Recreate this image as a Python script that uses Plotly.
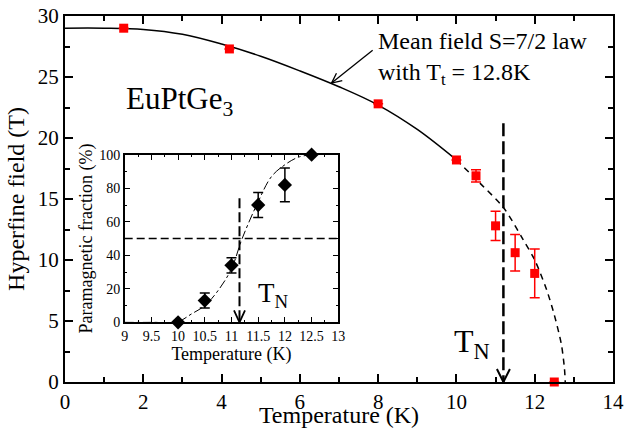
import plotly.graph_objects as go

# ---------------- data ----------------
# main panel: hyperfine field vs temperature
T_main = [1.5, 4.2, 8.0, 10.0, 10.5, 11.0, 11.5, 12.0, 12.5]
B_main = [29.0, 27.3, 22.8, 18.2, 16.9, 12.8, 10.6, 8.9, 0.0]
B_err = [0, 0, 0, 0, 0.5, 1.2, 1.5, 2.0, 0]

# mean-field S=7/2 law (curve)
T_fit_solid = [0, 1, 2, 3, 4, 5, 6, 7, 8, 9, 10]
B_fit_solid = [29.0, 29.0, 28.9, 28.5, 27.7, 26.7, 25.5, 24.2, 22.7, 20.7, 18.2]
T_fit_dash = [10, 10.6, 11.2, 11.7, 12.0, 12.3, 12.5, 12.68, 12.76, 12.78]
B_fit_dash = [18.2, 16.3, 14.3, 11.7, 10.0, 7.6, 5.5, 3.1, 1.1, 0.0]

# inset: paramagnetic fraction vs temperature
T_in = [10.0, 10.5, 11.0, 11.5, 12.0, 12.5]
P_in = [0, 13, 34, 70, 82, 100]
P_err = [0, 4.5, 4.5, 7.5, 10, 0]

T_in_fit = [9.0, 9.5, 10.0, 10.25, 10.5, 10.75, 11.0, 11.2, 11.5, 11.75, 12.0, 12.25, 12.5]
P_in_fit = [0, 0, 0.5, 5, 10, 19, 32, 50, 72, 87, 94, 98.5, 100]

# annotation positions
TN_MAIN = 11.2
TN_MAIN_TOP = 21.2
TN_INSET = 11.15
TN_INSET_TOP = 74
HALF_LEVEL = 50
ARROW_TAIL = (7.86, 27.2)
ARROW_HEAD = (6.81, 24.5)

FONT = "Liberation Serif"

fig = go.Figure()

# main curve
fig.add_trace(go.Scatter(x=T_fit_solid, y=B_fit_solid, mode="lines",
                         line=dict(color="black", width=1.5, shape="spline"),
                         xaxis="x", yaxis="y", hoverinfo="skip"))
fig.add_trace(go.Scatter(x=T_fit_dash, y=B_fit_dash, mode="lines",
                         line=dict(color="black", width=1.5, dash="6px,5px", shape="spline", smoothing=0.8),
                         xaxis="x", yaxis="y", hoverinfo="skip"))
# main data
fig.add_trace(go.Scatter(x=T_main, y=B_main, mode="markers",
                         marker=dict(symbol="square", size=9, color="red"),
                         error_y=dict(type="data", array=B_err, visible=True,
                                      color="red", thickness=1.5, width=5),
                         cliponaxis=False, xaxis="x", yaxis="y"))

# inset curve and data
fig.add_trace(go.Scatter(x=T_in_fit, y=P_in_fit, mode="lines",
                         line=dict(color="black", width=1, dash="dashdot", shape="spline"),
                         xaxis="x2", yaxis="y2", hoverinfo="skip"))
fig.add_trace(go.Scatter(x=T_in, y=P_in, mode="markers",
                         marker=dict(symbol="diamond", size=11, color="black"),
                         error_y=dict(type="data", array=P_err, visible=True,
                                      color="black", thickness=1.5, width=5),
                         cliponaxis=False, xaxis="x2", yaxis="y2"))

shapes = []
# main T_N dashed arrow
shapes.append(dict(type="line", xref="x", yref="y", x0=TN_MAIN, x1=TN_MAIN,
                   y0=TN_MAIN_TOP, y1=0, line=dict(color="black", width=2.5, dash="13px,5px")))
shapes.append(dict(type="path", xref="x", yref="y", xsizemode="pixel", ysizemode="pixel",
                   xanchor=TN_MAIN, yanchor=0, path="M -6.5 13 L 0 0 L 6.5 13",
                   line=dict(color="black", width=2)))
# mean-field arrow
shapes.append(dict(type="line", xref="x", yref="y", x0=ARROW_TAIL[0], y0=ARROW_TAIL[1],
                   x1=ARROW_HEAD[0], y1=ARROW_HEAD[1], line=dict(color="black", width=1.3)))
shapes.append(dict(type="path", xref="x", yref="y", xsizemode="pixel", ysizemode="pixel",
                   xanchor=ARROW_HEAD[0], yanchor=ARROW_HEAD[1],
                   path="M 4.9 9.8 L 0 0 L 10.7 2.5", line=dict(color="black", width=1.3)))
# inset 50% line
shapes.append(dict(type="line", xref="x2", yref="y2", x0=9, x1=13, y0=HALF_LEVEL, y1=HALF_LEVEL,
                   line=dict(color="black", width=1.5, dash="8px,4px")))
# inset T_N arrow
shapes.append(dict(type="line", xref="x2", yref="y2", x0=TN_INSET, x1=TN_INSET,
                   y0=TN_INSET_TOP, y1=0, line=dict(color="black", width=2, dash="10px,4px")))
shapes.append(dict(type="path", xref="x2", yref="y2", xsizemode="pixel", ysizemode="pixel",
                   xanchor=TN_INSET, yanchor=0, path="M -5.5 12 L 0 0 L 5.5 12",
                   line=dict(color="black", width=1.8)))

annotations = [
    dict(x=1.5, y=23.0, xref="x", yref="y", text="EuPtGe<sub>3</sub>", showarrow=False,
         xanchor="left", yanchor="middle", font=dict(family=FONT, size=31, color="black")),
    dict(x=7.95, y=29.2, xref="x", yref="y", align="left",
         text="Mean field S=7/2 law<br>with T<sub>t</sub> = 12.8K", showarrow=False,
         xanchor="left", yanchor="top", font=dict(family=FONT, size=24, color="black")),
    dict(x=9.88, y=1.3, xref="x", yref="y", text="T<sub>N</sub>", showarrow=False,
         xanchor="left", yanchor="bottom", font=dict(family=FONT, size=32, color="black")),
    dict(x=11.45, y=5, xref="x2", yref="y2", text="T<sub>N</sub>", showarrow=False,
         xanchor="left", yanchor="bottom", font=dict(family=FONT, size=27, color="black")),
]

axis_common = dict(showline=True, linecolor="black", mirror="ticks", ticks="inside",
                   tickcolor="black", showgrid=False, zeroline=False, automargin=False)

fig.update_layout(
    width=635, height=428,
    margin=dict(l=65, r=22, t=16, b=46),
    paper_bgcolor="white", plot_bgcolor="white",
    showlegend=False,
    font=dict(family=FONT, color="black"),
    xaxis=dict(**axis_common, range=[0, 14], tick0=0, dtick=2, linewidth=2,
               ticklen=8, tickwidth=1.5,
               minor=dict(dtick=1, ticklen=5, ticks="inside", tickcolor="black", tickwidth=1.5),
               tickfont=dict(family=FONT, size=21),
               title=dict(text="Temperature (K)", font=dict(family=FONT, size=24), standoff=4),
               domain=[0, 1], anchor="y"),
    yaxis=dict(**axis_common, range=[0, 30], tick0=0, dtick=5, linewidth=2,
               ticklen=8, tickwidth=1.5,
               minor=dict(dtick=2.5, ticklen=5, ticks="inside", tickcolor="black", tickwidth=1.5),
               tickfont=dict(family=FONT, size=21),
               title=dict(text="Hyperfine field (T)", font=dict(family=FONT, size=24), standoff=6),
               domain=[0, 1], anchor="x"),
    xaxis2=dict(**axis_common, range=[9, 13], tick0=9, dtick=0.5, linewidth=1.5,
                ticklen=6, tickwidth=1.2,
                minor=dict(dtick=0.25, ticklen=3, ticks="inside", tickcolor="black", tickwidth=1.2),
                tickfont=dict(family=FONT, size=14),
                title=dict(text="Temperature (K)", font=dict(family=FONT, size=18), standoff=2),
                domain=[0.1089, 0.4987], anchor="y2"),
    yaxis2=dict(**axis_common, range=[0, 100], tick0=0, dtick=20, linewidth=1.5,
                ticklen=6, tickwidth=1.2,
                minor=dict(dtick=10, ticklen=3, ticks="inside", tickcolor="black", tickwidth=1.2),
                tickfont=dict(family=FONT, size=14),
                title=dict(text="Paramagnetic fraction (%)", font=dict(family=FONT, size=18), standoff=2),
                domain=[0.163, 0.621], anchor="x2"),
    shapes=shapes,
    annotations=annotations,
)

fig.write_html("out.html", config={"displayModeBar": False},
               post_script="document.body.style.margin='0px';document.body.style.overflow='hidden';")
